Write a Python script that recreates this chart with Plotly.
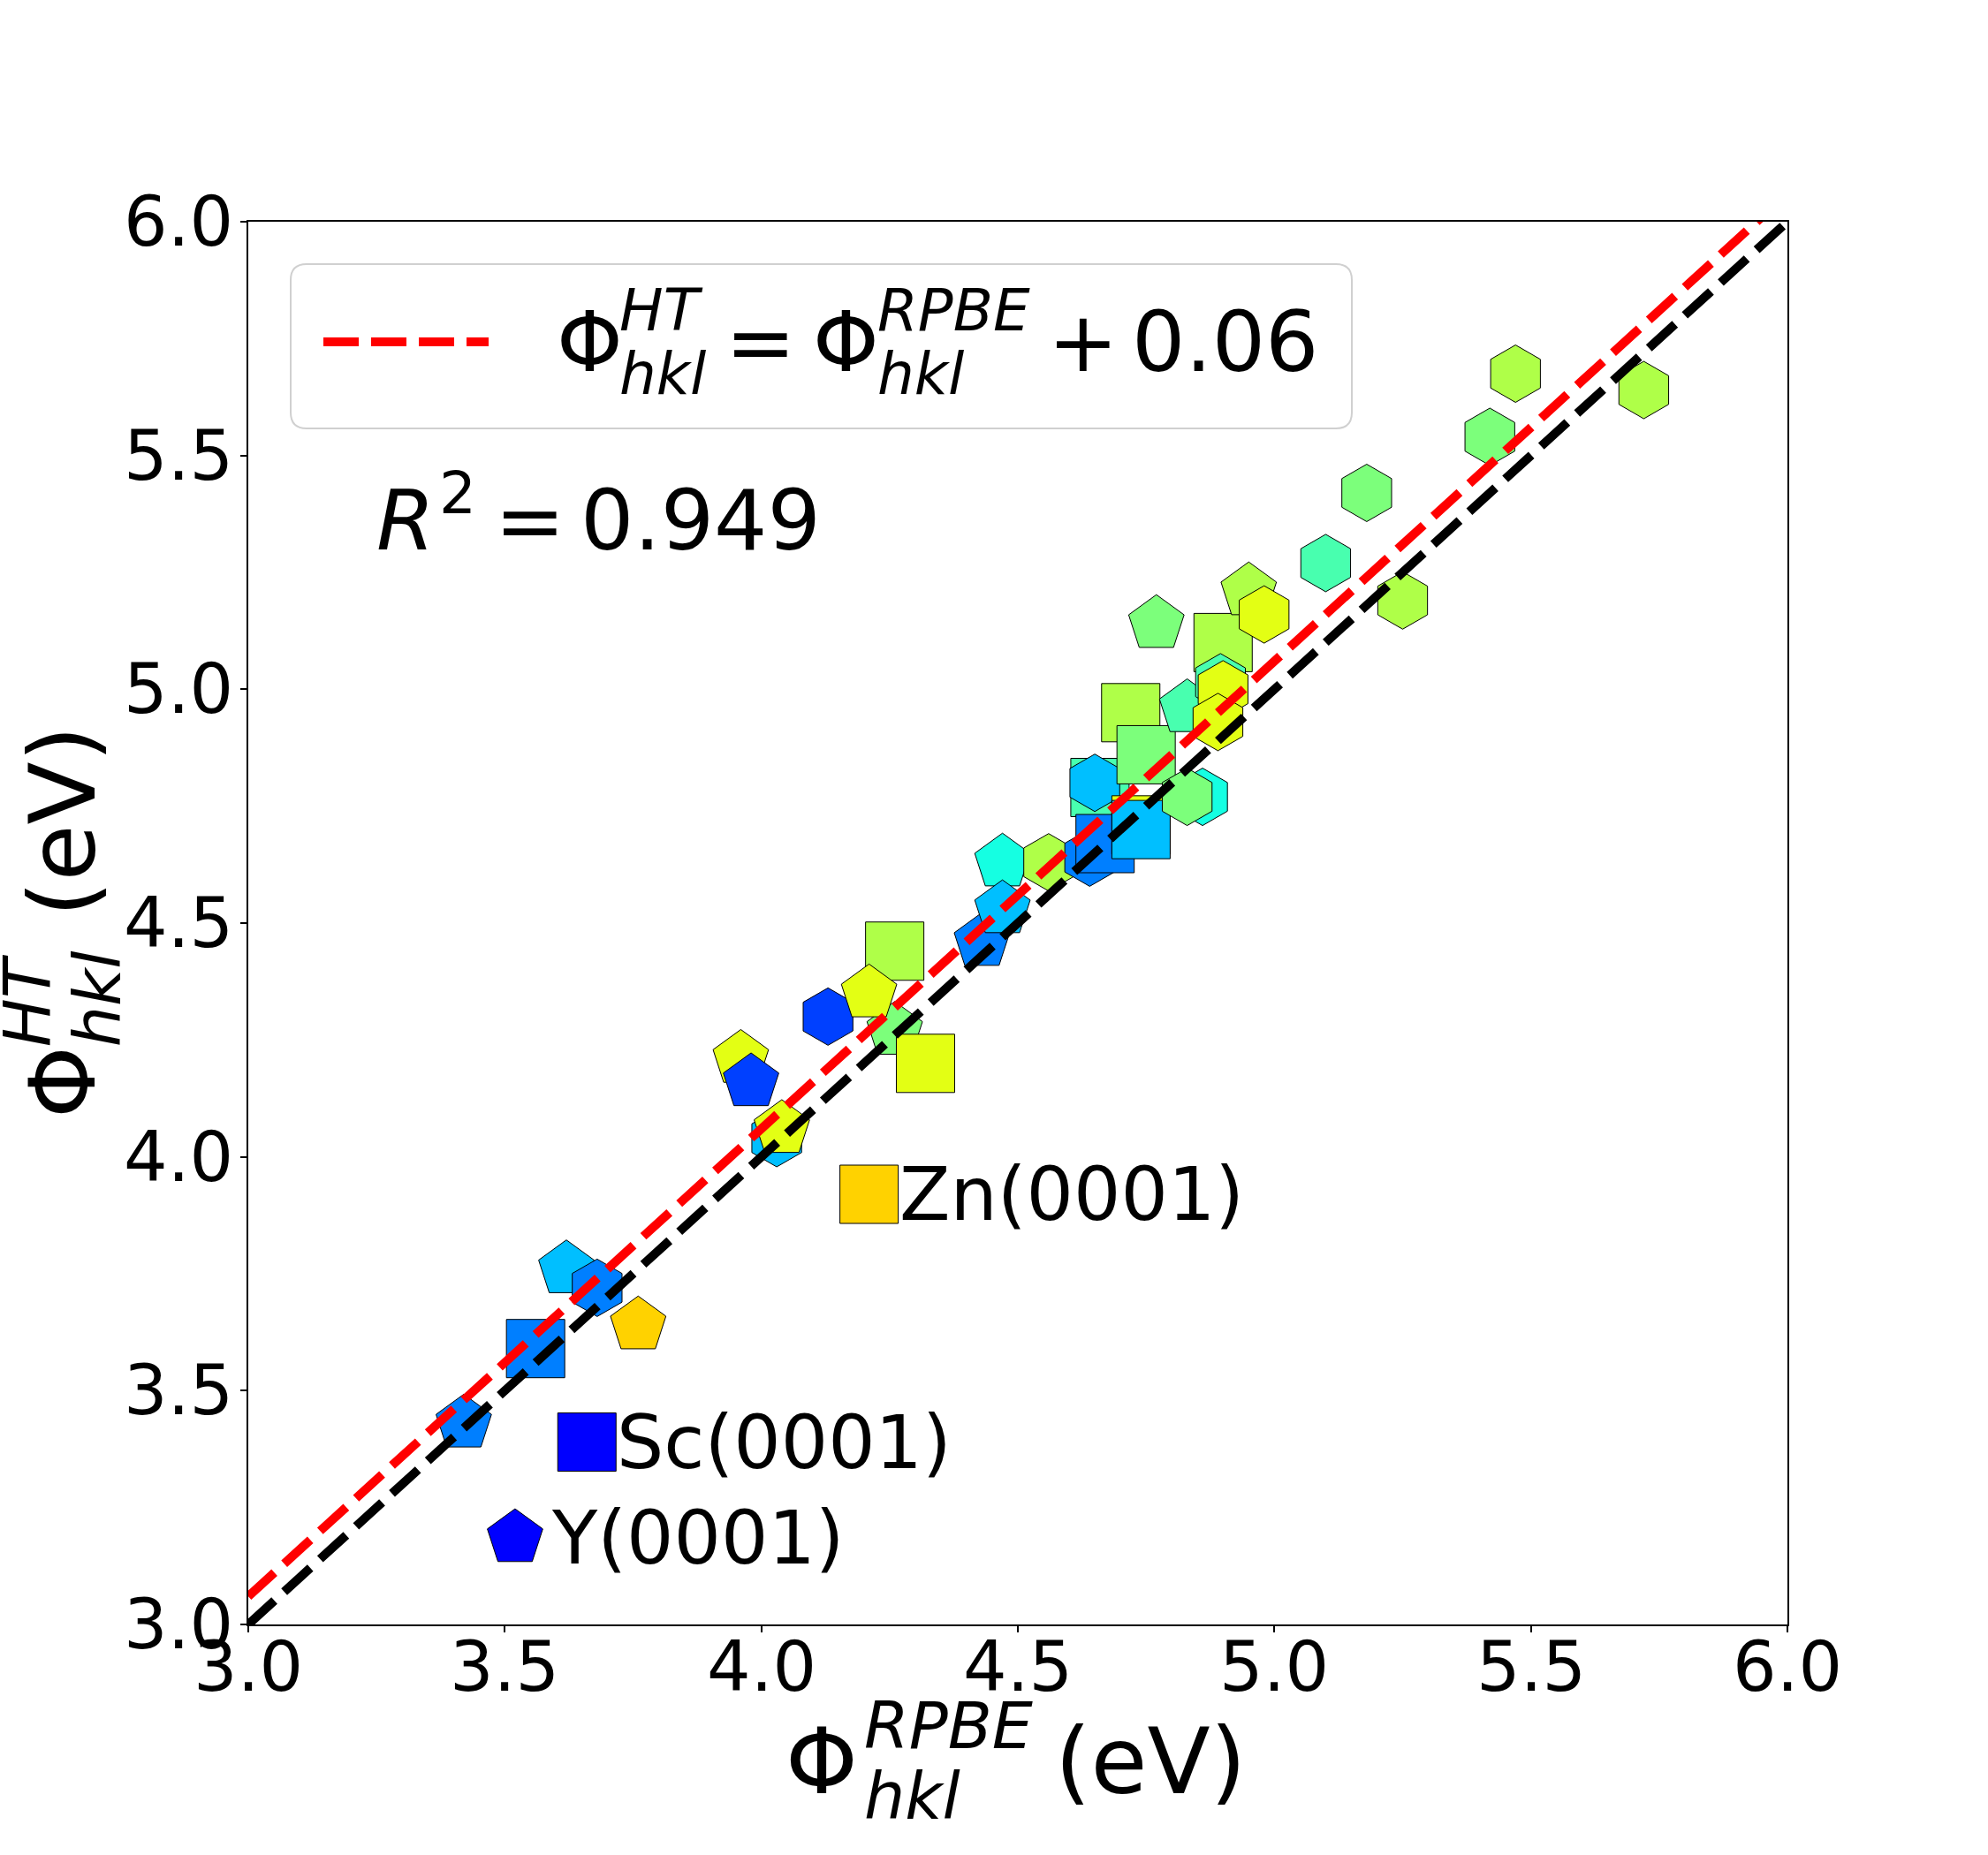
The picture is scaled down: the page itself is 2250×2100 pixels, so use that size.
import numpy as np
import plotly.graph_objects as go

# ---------------- data ----------------
phi_rpbe = [3.42, 3.56, 3.62, 3.68, 3.76, 3.96, 3.98, 4.03, 4.04, 4.13,
            4.26, 4.26, 4.21, 4.32, 4.43, 4.47, 4.47, 4.56, 4.64, 4.66,
            4.65, 4.67, 4.74, 4.74, 4.72, 4.75, 4.86, 4.83, 4.90, 4.83,
            4.895, 4.90, 4.89, 4.77, 4.95, 4.98, 5.10, 5.25, 5.18, 5.42,
            5.47, 5.72]
phi_ht = [3.43, 3.59, 3.76, 3.72, 3.64, 4.21, 4.16, 4.04, 4.06, 4.30,
          4.27, 4.44, 4.35, 4.20, 4.46, 4.63, 4.53, 4.63, 4.64, 4.79,
          4.80, 4.67, 4.71, 4.70, 4.95, 4.86, 4.77, 4.77, 5.10, 4.96,
          5.015, 5.00, 4.93, 5.14, 5.21, 5.16, 5.27, 5.19, 5.42, 5.54,
          5.675, 5.64]
group = [5, 5, 6, 5, 12, 11, 4, 6, 11, 4,
         9, 10, 11, 11, 5, 7, 6, 10, 5, 8,
         6, 5, 11, 6, 10, 9, 7, 9, 10, 8,
         8, 11, 11, 9, 10, 11, 8, 10, 9, 9,
         10, 10]
shape = ['pentagon', 'square', 'pentagon', 'hexagon', 'pentagon', 'pentagon', 'pentagon', 'hexagon', 'pentagon', 'hexagon',
         'pentagon', 'square', 'pentagon', 'square', 'pentagon', 'pentagon', 'pentagon', 'hexagon', 'hexagon', 'square',
         'hexagon', 'square', 'square', 'square', 'square', 'square', 'hexagon', 'hexagon', 'square', 'pentagon',
         'hexagon', 'hexagon', 'hexagon', 'pentagon', 'pentagon', 'hexagon', 'hexagon', 'hexagon', 'hexagon', 'hexagon',
         'hexagon', 'hexagon']

label_names = ['Zn(0001)', 'Sc(0001)', 'Y(0001)']
label_rpbe = [4.21, 3.66, 3.52]
label_ht = [3.92, 3.39, 3.185]
label_group = [12, 3, 3]
label_shape = ['square', 'square', 'pentagon']

fit_offset = 0.06
r_squared = 0.949
ref_x = [3.0, 6.0]
tick_vals = [3.0, 3.5, 4.0, 4.5, 5.0, 5.5, 6.0]
tick_text = ['3.0', '3.5', '4.0', '4.5', '5.0', '5.5', '6.0']

# ---------------- style ----------------
FIG_W, FIG_H = 2250, 2100
L, R, T, B = 281, 2023, 251, 1839
PW, PH = R - L, B - T
FONT = 'DejaVu Sans'
SIZE_OF = {'square': 66, 'pentagon': 66, 'hexagon': 65}
LABEL_SHIFT = {'square': 33, 'pentagon': 40, 'hexagon': 33}


def mpl_jet():
    p = [0, 0.11, 0.125, 0.34, 0.35, 0.375, 0.64, 0.65, 0.66, 0.89, 0.91, 1]
    r = np.interp(p, [0, 0.35, 0.66, 0.89, 1], [0, 0, 1, 1, 0.5])
    g = np.interp(p, [0, 0.125, 0.375, 0.64, 0.91, 1], [0, 0, 1, 1, 0, 0])
    b = np.interp(p, [0, 0.11, 0.34, 0.65, 1], [0.5, 1, 1, 0, 0])
    return [[pp, 'rgb(%d,%d,%d)' % (round(255 * rr), round(255 * gg), round(255 * bb))]
            for pp, rr, gg, bb in zip(p, r, g, b)]


JET = mpl_jet()


def marker_style(shapes, groups):
    return dict(symbol=shapes, size=[SIZE_OF[s] for s in shapes], color=groups,
                colorscale=JET, cmin=1, cmax=17, showscale=False,
                line=dict(color='black', width=1), opacity=1)


fig = go.Figure()
fig.add_trace(go.Scatter(x=phi_rpbe, y=phi_ht, mode='markers',
                         marker=marker_style(shape, group), showlegend=False,
                         hoverinfo='x+y'))
fig.add_trace(go.Scatter(x=label_rpbe, y=label_ht, mode='markers',
                         marker=marker_style(label_shape, label_group), showlegend=False))
fig.add_trace(go.Scatter(x=ref_x, y=[v + fit_offset for v in ref_x], mode='lines',
                         line=dict(color='#ff0000', width=10, dash='40px,15px'), showlegend=False))
fig.add_trace(go.Scatter(x=ref_x, y=ref_x, mode='lines',
                         line=dict(color='black', width=10, dash='40px,15px'), showlegend=False))

ann = []


def px2paper(xp, yp):
    return (xp - L) / PW, (B - yp) / PH


def run(text, x_origin, baseline, size):
    xx, yy = px2paper(x_origin, baseline - 0.346 * size)
    ann.append(dict(text=text, x=xx, y=yy, xref='paper', yref='paper',
                    xanchor='left', yanchor='middle', showarrow=False, borderpad=0,
                    font=dict(family=FONT, size=size, color='black')))


def run_rot(text, y_start, baseline_x, size):
    xx, yy = px2paper(baseline_x - 0.346 * size, y_start)
    ann.append(dict(text=text, x=xx, y=yy, xref='paper', yref='paper', textangle=-90,
                    xanchor='center', yanchor='bottom', showarrow=False, borderpad=0,
                    font=dict(family=FONT, size=size, color='black')))


# legend text: Phi^HT_hkl = Phi^RPBE_hkl + 0.06
F, S = 95, 66
bl = 420
run('Φ', 629, bl, F)
run('<i>HT</i>', 700, bl - 46, S)
run('<i>hkl</i>', 700, bl + 26, S)
run('=', 820, bl, F)
run('Φ', 919, bl, F)
run('<i>RPBE</i>', 992, bl - 46, S)
run('<i>hkl</i>', 992, bl + 26, S)
run('+', 1185, bl, F)
run('%.2f' % fit_offset, 1280, bl, F)

# R^2 text
bl = 622
run('<i>R</i>', 425, bl, F)
run('2', 496, bl - 41, S)
run('=', 559, bl, F)
run('%.3f' % r_squared, 656, bl, F)

# x title
F2, S2 = 104, 73
bl = 2030
run('Φ', 888, bl, F2)
run('<i>RPBE</i>', 977, bl - 51, S2)
run('<i>hkl</i>', 977, bl + 29, S2)
run('(eV)', 1193, bl, F2)

# y title (rotated)
blx = 107
run_rot('Φ', 1267, blx, F2)
run_rot('<i>HT</i>', 1186, blx - 51, S2)
run_rot('<i>hkl</i>', 1186, blx + 29, S2)
run_rot('(eV)', 1039, blx, F2)

# tick labels
TF = 78
_, ytick_paper = px2paper(0, 1914 - 0.346 * TF)
xtick_right, _ = px2paper(265, 0)
for v, t in zip(tick_vals, tick_text):
    ann.append(dict(text=t, x=v, y=ytick_paper, xref='x', yref='paper', xanchor='center',
                    yanchor='middle', showarrow=False, borderpad=0,
                    font=dict(family=FONT, size=TF, color='black')))
    ann.append(dict(text=t, x=xtick_right, y=v, xref='paper', yref='y', xanchor='right',
                    yanchor='middle', showarrow=False, borderpad=0,
                    font=dict(family=FONT, size=TF, color='black')))

# point labels
for name, xv, yv, shp in zip(label_names, label_rpbe, label_ht, label_shape):
    ann.append(dict(text=name, x=xv, y=yv, xref='x', yref='y', xanchor='left',
                    yanchor='middle', xshift=LABEL_SHIFT[shp], showarrow=False, borderpad=0,
                    font=dict(family=FONT, size=84, color='black')))

# legend frame (rounded) and sample line
x0, y1 = px2paper(329, 299)
x1, y0 = px2paper(1530, 485)
rx, ry = 18 / PW, 18 / PH
path = (f'M {x0 + rx},{y1} L {x1 - rx},{y1} Q {x1},{y1} {x1},{y1 - ry} '
        f'L {x1},{y0 + ry} Q {x1},{y0} {x1 - rx},{y0} L {x0 + rx},{y0} '
        f'Q {x0},{y0} {x0},{y0 + ry} L {x0},{y1 - ry} Q {x0},{y1} {x0 + rx},{y1} Z')
sx0, sy = px2paper(366, 387)
sx1, _ = px2paper(553, 387)
shapes = [
    dict(type='path', path=path, xref='paper', yref='paper', layer='above',
         fillcolor='rgba(255,255,255,0.8)', line=dict(color='#d0d0d0', width=2)),
    dict(type='line', x0=sx0, x1=sx1, y0=sy, y1=sy, xref='paper', yref='paper',
         layer='above', line=dict(color='#ff0000', width=10, dash='40px,14px')),
]

axis_common = dict(range=[3, 6], tickmode='array', tickvals=tick_vals, ticktext=tick_text,
                   showticklabels=False,
                   showgrid=False, zeroline=False, showline=True, linecolor='black',
                   linewidth=2, mirror=True, ticks='outside', ticklen=7, tickwidth=1.5,
                   tickcolor='black')

fig.update_layout(
    width=FIG_W, height=FIG_H, autosize=False,
    margin=dict(l=L, r=FIG_W - R, t=T, b=FIG_H - B, pad=0),
    paper_bgcolor='white', plot_bgcolor='white',
    xaxis=dict(**axis_common),
    yaxis=dict(**axis_common),
    annotations=ann, shapes=shapes, showlegend=False,
    font=dict(family=FONT),
)

fig.write_html('out.html')
